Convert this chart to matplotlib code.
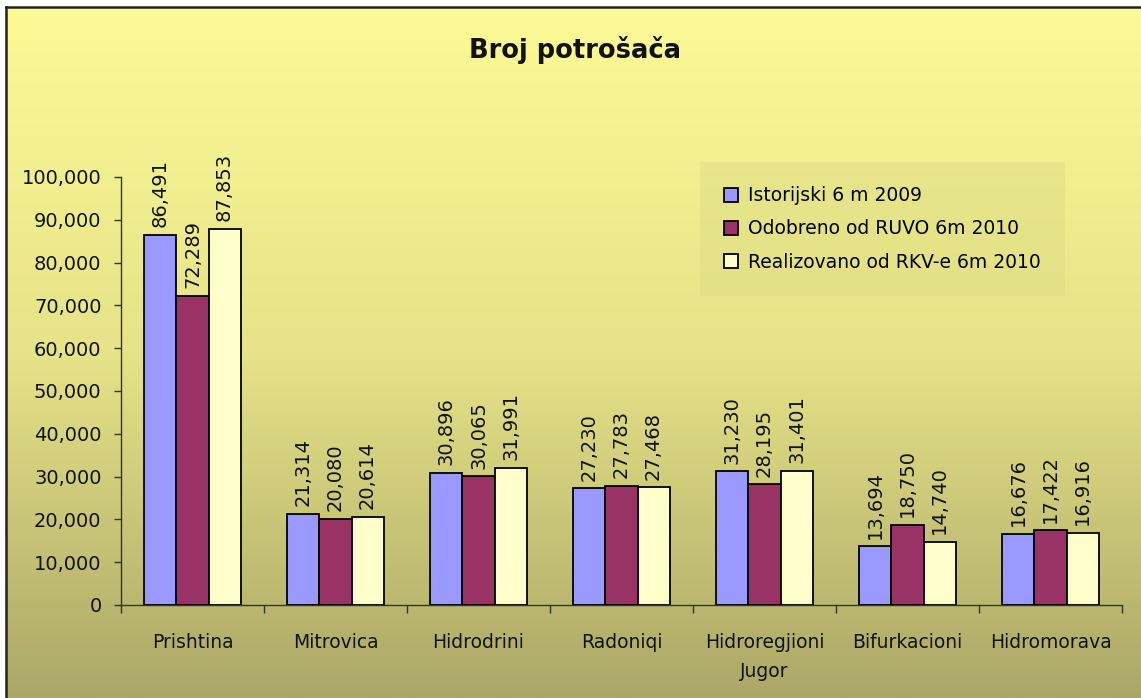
import numpy as np
import matplotlib
matplotlib.use('Agg')
import matplotlib.pyplot as plt
from matplotlib.colors import LinearSegmentedColormap
from matplotlib.ticker import FuncFormatter, FixedLocator

kategorije = ['Prishtina', 'Mitrovica', 'Hidrodrini', 'Radoniqi',
              'Hidroregjioni\nJugor', 'Bifurkacioni', 'Hidromorava']
serije = ['Istorijski 6 m 2009', 'Odobreno od RUVO 6m 2010',
          'Realizovano od RKV-e 6m 2010']
istorijski = [86491, 21314, 30896, 27230, 31230, 13694, 16676]
odobreno = [72289, 20080, 30065, 27783, 28195, 18750, 17422]
realizovano = [87853, 20614, 31991, 27468, 31401, 14740, 16916]
boje = ['#9999FF', '#993366', '#FFFFCC']

plt.rcParams['font.family'] = 'DejaVu Sans'

W, H = 1141, 698
fig = plt.figure(figsize=(W / 100, H / 100), dpi=100)

# pozadina sa gradijentom
bg = fig.add_axes([6 / W, 0, 1 - 6 / W, 1 - 7 / H])
cmap = LinearSegmentedColormap.from_list('bg', ['#FBFA96', '#E6E388', '#ABA767'])
bg.imshow(np.linspace(0, 1, 256).reshape(-1, 1), aspect='auto', cmap=cmap,
          extent=[0, 1, 0, 1], origin='upper')
bg.set_xlim(0, 1)
bg.set_ylim(0, 1)
bg.set_xticks([])
bg.set_yticks([])
for s in ['right', 'bottom']:
    bg.spines[s].set_visible(False)
for s in ['left', 'top']:
    bg.spines[s].set_linewidth(1.8)
    bg.spines[s].set_color('#222222')

ax = fig.add_axes([121 / W, 1 - 605 / H, (1122 - 121) / W, (605 - 177) / H])
ax.patch.set_alpha(0)

x = np.arange(len(kategorije))
sirina = 0.224
for i, (vals, naziv) in enumerate(zip([istorijski, odobreno, realizovano], serije)):
    bars = ax.bar(x + (i - 1) * sirina, vals, sirina, color=boje[i],
                  edgecolor='black', linewidth=1.3, label=naziv, zorder=3)
    ax.bar_label(bars, labels=[f'{v:,}' for v in vals], rotation=90,
                 padding=5.5, fontsize=14, color='#111111')

ax.set_xlim(-0.5, len(kategorije) - 0.5)
ax.set_ylim(0, 100000)
ax.set_yticks(np.arange(0, 100001, 10000))
ax.yaxis.set_major_formatter(FuncFormatter(lambda v, p: f'{int(v):,}'))
ax.tick_params(axis='y', labelsize=14, length=5, width=1, color='#333333',
               pad=9, labelcolor='#111111')

ax.set_xticks(x)
ax.set_xticklabels(kategorije, fontsize=13.5, color='#111111', linespacing=1.7)
ax.tick_params(axis='x', which='major', length=0, pad=20)
ax.xaxis.set_minor_locator(FixedLocator(np.arange(-0.5, len(kategorije), 1)))
ax.tick_params(axis='x', which='minor', length=6, width=1, color='#333333')

for s in ['top', 'right']:
    ax.spines[s].set_visible(False)
for s in ['left', 'bottom']:
    ax.spines[s].set_color('#333333')
    ax.spines[s].set_linewidth(1)

fig.text(575 / W, 1 - 50 / H, 'Broj potrošača', ha='center', va='center',
         fontsize=18.5, fontweight='bold', color='#111111')

leg = ax.legend(loc='upper left', bbox_to_anchor=(579 / 1001, 1.035),
                fontsize=13.5, frameon=True, fancybox=False,
                handlelength=0.75, handleheight=0.75, handletextpad=0.5,
                labelspacing=0.75, borderpad=1.3, borderaxespad=0)
leg.get_frame().set_facecolor('#D8D680')
leg.get_frame().set_alpha(0.35)
leg.get_frame().set_linewidth(0)

fig.savefig('out.png', dpi=100, facecolor='white')
